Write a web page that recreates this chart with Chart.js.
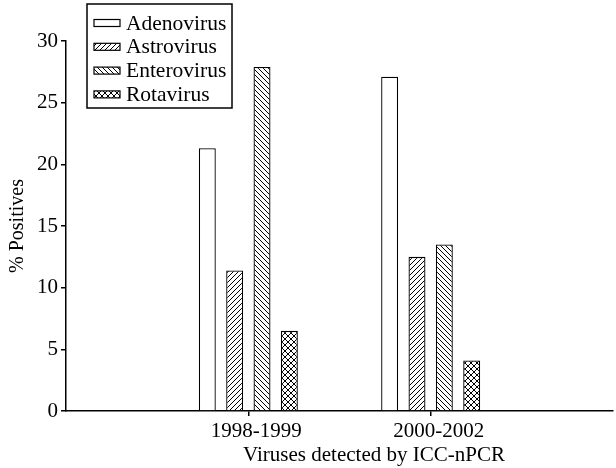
<!DOCTYPE html>
<html>
<head>
<meta charset="utf-8">
<script src="https://cdn.jsdelivr.net/npm/chart.js@4/dist/chart.umd.min.js"></script>
<style>
  html, body { margin: 0; padding: 0; background: #fff; }
  #wrap { width: 616px; height: 468px; }
</style>
</head>
<body>
<div id="wrap"><canvas id="c" width="616" height="468"></canvas></div>
<script>
const categories = ['1998-1999', '2000-2002'];
const seriesNames = ['Adenovirus', 'Astrovirus', 'Enterovirus', 'Rotavirus'];
const adenovirus = [21.3, 27.1];
const astrovirus = [11.4, 12.5];
const enterovirus = [27.9, 13.5];
const rotavirus = [6.5, 4.1];
const yMin = 0, yMax = 30, yStep = 5;
const xTitle = 'Viruses detected by ICC-nPCR';
const yTitle = '% Positives';

const FONT = 'Liberation Serif';

function makePattern(type) {
  const s = type === 'cross' ? 6 : 5;
  const c = document.createElement('canvas');
  c.width = s; c.height = s;
  const g = c.getContext('2d');
  g.fillStyle = '#fff';
  g.fillRect(0, 0, s, s);
  g.strokeStyle = '#000';
  g.lineWidth = 1;
  g.beginPath();
  if (type === 'fwd' || type === 'cross') {
    g.moveTo(0, s); g.lineTo(s, 0);
    g.moveTo(-1, 1); g.lineTo(1, -1);
    g.moveTo(s - 1, s + 1); g.lineTo(s + 1, s - 1);
  }
  if (type === 'back' || type === 'cross') {
    g.moveTo(0, 0); g.lineTo(s, s);
    g.moveTo(-1, s - 1); g.lineTo(1, s + 1);
    g.moveTo(s - 1, -1); g.lineTo(s + 1, 1);
  }
  g.stroke();
  const ctx = document.getElementById('c').getContext('2d');
  return ctx.createPattern(c, 'repeat');
}

const fills = ['#ffffff', makePattern('fwd'), makePattern('back'), makePattern('cross')];
const seriesData = [adenovirus, astrovirus, enterovirus, rotavirus];

// pad categories with empty slots at both ends (axis spans beyond the two groups)
const labels = [''].concat(categories, ['']);
const datasets = seriesNames.map((name, i) => ({
  label: name,
  data: [null].concat(seriesData[i], [null]),
  backgroundColor: fills[i],
  borderColor: '#000',
  borderWidth: 1.3,
  categoryPercentage: 0.6,
  barPercentage: 0.62
}));

const boxedLegend = {
  id: 'boxedLegend',
  afterDraw(chart) {
    const ctx = chart.ctx;
    ctx.save();
    const bx = 87, by = 4, bw = 145, bh = 104;
    ctx.strokeStyle = '#000';
    ctx.lineWidth = 1.5;
    ctx.fillStyle = '#fff';
    ctx.fillRect(bx, by, bw, bh);
    ctx.strokeRect(bx, by, bw, bh);
    ctx.font = Chart.helpers.toFont({ family: FONT, size: 21.5 }).string;
    ctx.textBaseline = 'middle';
    ctx.textAlign = 'left';
    chart.data.datasets.forEach((ds, i) => {
      const cy = 23 + i * 23.8;
      ctx.fillStyle = ds.backgroundColor;
      ctx.fillRect(94, cy - 3.5, 26, 7);
      ctx.lineWidth = 1.2;
      ctx.strokeStyle = '#000';
      ctx.strokeRect(94, cy - 3.5, 26, 7);
      ctx.fillStyle = '#000';
      ctx.fillText(ds.label, 126, cy + 1);
    });
    // x-axis title
    ctx.font = Chart.helpers.toFont({ family: FONT, size: 21 }).string;
    ctx.textAlign = 'center';
    ctx.textBaseline = 'middle';
    ctx.fillStyle = '#000';
    ctx.fillText(xTitle, 374, 455);
    ctx.restore();
  }
};

new Chart(document.getElementById('c'), {
  type: 'bar',
  data: { labels: labels, datasets: datasets },
  options: {
    responsive: false,
    animation: false,
    devicePixelRatio: 1,
    layout: { padding: { top: 41, right: 0, left: 0, bottom: 0 } },
    plugins: { legend: { display: false }, tooltip: { enabled: false } },
    scales: {
      x: {
        type: 'category',
        offset: false,
        grid: {
          offset: false,
          drawOnChartArea: false,
          drawTicks: true,
          tickLength: 5,
          lineWidth: 1.5,
          color: (c) => (c.index === 1 || c.index === 2) ? '#000' : 'rgba(0,0,0,0)'
        },
        border: { display: true, color: '#000', width: 1.5 },
        ticks: {
          autoSkip: false, maxRotation: 0, minRotation: 0,
          color: '#000', padding: 3, labelOffset: 8,
          font: { family: FONT, size: 21 }
        },
        afterFit: (s) => { s.height = 57; }
      },
      y: {
        min: yMin, max: yMax,
        grid: {
          drawOnChartArea: false,
          drawTicks: true,
          tickLength: 5,
          lineWidth: 1.5,
          color: '#000'
        },
        border: { display: true, color: '#000', width: 1.5 },
        ticks: {
          stepSize: yStep,
          color: '#000', padding: 3,
          font: { family: FONT, size: 21 }
        },
        title: {
          display: true, text: yTitle, color: '#000',
          font: { family: FONT, size: 20 },
          padding: { top: 6, bottom: 0 }
        },
        afterFit: (s) => { s.width = 66; }
      }
    }
  },
  plugins: [boxedLegend]
});
</script>
</body>
</html>
